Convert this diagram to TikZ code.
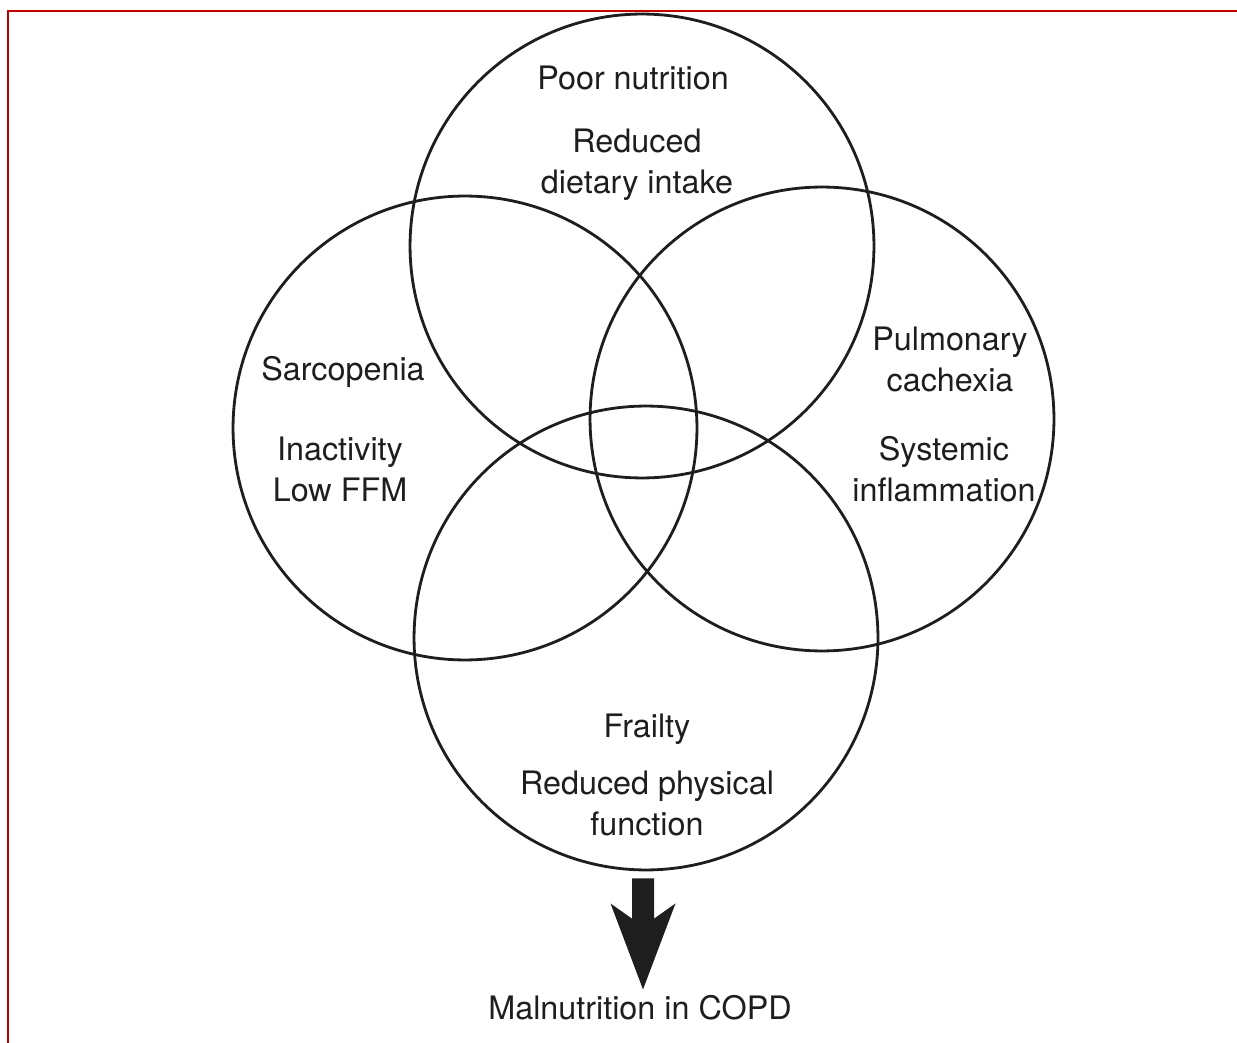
\documentclass[tikz,border=0pt]{standalone}
\usepackage{xcolor}
\usepackage{fontspec}
\setmainfont{TeX Gyre Heros}
\usepackage{tikz}
\usetikzlibrary{positioning, arrows.meta, calc}

\definecolor{framered}{HTML}{C00000}
\definecolor{inkgray}{HTML}{1E1E1E}

\begin{document}
\begin{tikzpicture}[x=0.02cm, y=-0.02cm,
    every node/.style={font=\fontsize{18.4}{23.3}\selectfont, text=inkgray, align=center},
    ring/.style={draw=inkgray, circle, line width=1.6pt, minimum size=9.28cm, inner sep=0pt},
    bigarrow/.style={inkgray, line width=0.44cm, -{Stealth[length=1.72cm, width=1.3cm, inset=0.46cm, line width=0pt]}}]
    \useasboundingbox (0,0) rectangle (1237,1043);
    \draw[framered, line width=0.05cm] (8,1043) -- (8,11) -- (1237,11);

    \node (nut) [ring] at (642,246) {};
    \node (sar) [ring] at (465,428) {};
    \node (cac) [ring] at (822,419) {};
    \node (fra) [ring] at (646,638) {};

    \node (nut_t) at (633,78) {Poor nutrition};
    \node (nut_d) at (637,165) {Reduced\\dietary intake};
    \node (sar_t) at (343,372) {Sarcopenia};
    \node (sar_d) at (340,469) {Inactivity\\Low FFM};
    \node (cac_t) at (950,359) {Pulmonary\\cachexia};
    \node (cac_d) at (944,469) {Systemic\\inflammation};
    \node (fra_t) at (647,729) {Frailty};
    \node (fra_d) at (647,803) {Reduced physical\\function};
    \node (mal) at (640,1008) {Malnutrition in COPD};

    % Fleche
    \draw[bigarrow] ([xshift=-0.06cm, yshift=-0.14cm]fra.south) -- ([xshift=0.06cm]mal.north);
\end{tikzpicture}
\end{document}
